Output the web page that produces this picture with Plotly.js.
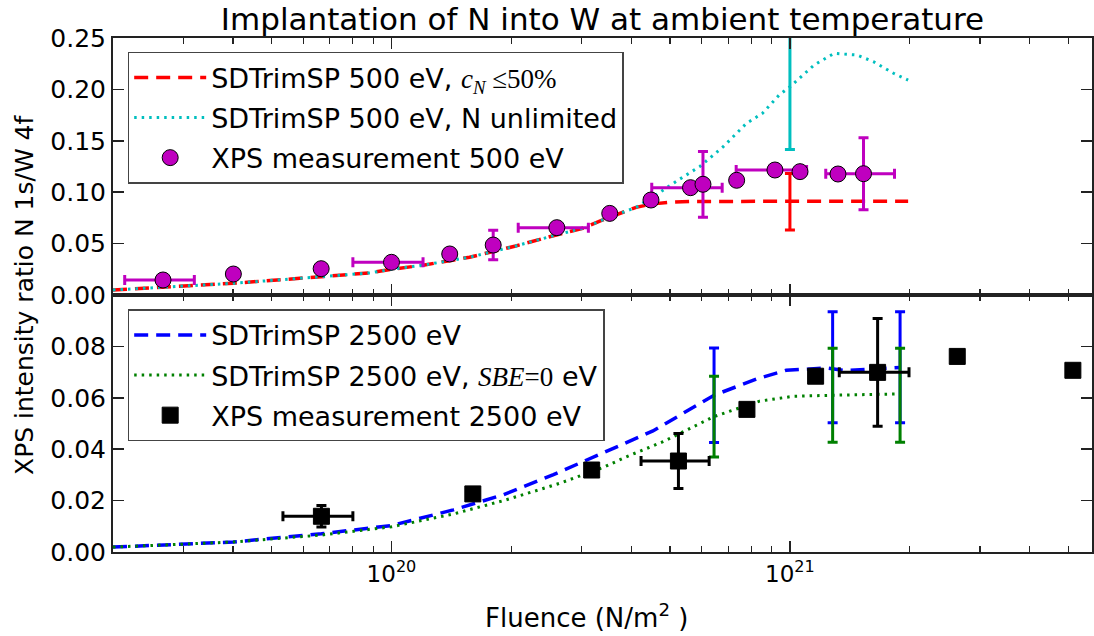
<!DOCTYPE html>
<html>
<head>
<meta charset="utf-8">
<script src="https://cdn.plot.ly/plotly-3.0.1.min.js"></script>
<style>
  html, body { margin: 0; padding: 0; background: #fff; }
  #chart { width: 1094px; height: 636px; }
</style>
</head>
<body>
<div id="chart"></div>
<script>
// ---------- Top panel: 500 eV ----------
const sim500Limited_x = [2e19, 2.67e19, 4.01e19, 6.66e19, 8.83e19, 1e20, 1.2e20, 1.57e20, 2.05e20, 2.59e20, 3.02e20, 3.39e20, 4.11e20, 4.5e20, 5e20, 5.6e20, 7e20, 1e21, 1.5e21, 1.98e21];
const sim500Limited_y = [0.0049, 0.0075, 0.0114, 0.0178, 0.0215, 0.025, 0.029, 0.0367, 0.0477, 0.0584, 0.0649, 0.073, 0.0853, 0.0885, 0.0903, 0.0910, 0.0912, 0.0910, 0.0912, 0.0912];

const sim500Unlim_x = [2e19, 2.67e19, 4.01e19, 6.66e19, 8.83e19, 1e20, 1.2e20, 1.57e20, 2.05e20, 2.59e20, 3.02e20, 3.39e20, 4.11e20, 4.47e20, 4.8e20, 5.28e20, 5.94e20, 6.79e20, 7.78e20, 8.53e20, 9.4e20, 1e21, 1.15e21, 1.29e21, 1.47e21, 1.62e21, 1.82e21, 1.98e21];
const sim500Unlim_y = [0.0049, 0.0075, 0.0114, 0.0178, 0.0215, 0.025, 0.029, 0.0367, 0.0477, 0.0584, 0.0649, 0.073, 0.0853, 0.094, 0.102, 0.1125, 0.125, 0.144, 0.167, 0.1767, 0.1946, 0.2026, 0.2237, 0.235, 0.2335, 0.227, 0.2157, 0.209];

const sim500Err_x = [1e21];
const sim500LimitedErr_y = [0.0908];
const sim500LimitedErr = [0.0275];
const sim500UnlimErr_y = [0.2026];
const sim500UnlimErr = [0.061];

const xps500_x = [2.67e19, 4.01e19, 6.66e19, 1.0e20, 1.40e20, 1.80e20, 2.60e20, 3.53e20, 4.48e20, 5.63e20, 6.05e20, 7.35e20, 9.17e20, 1.06e21, 1.32e21, 1.53e21];
const xps500_y = [0.0146, 0.0204, 0.0256, 0.0318, 0.0399, 0.0486, 0.0655, 0.0794, 0.0924, 0.1044, 0.1077, 0.1116, 0.1216, 0.1200, 0.1177, 0.1180];
const xps500_xerr = [0.53e19, 0, 0, 0.2e20, 0, 0, 0.52e20, 0, 0, 1.13e20, 0, 0, 1.84e20, 0, 0, 0.30e21];
const xps500_yerr = [0, 0, 0, 0, 0, 0.0143, 0, 0, 0, 0, 0.032, 0, 0, 0, 0, 0.035];

// ---------- Bottom panel: 2500 eV ----------
const sim2500_x = [2e19, 4.01e19, 6.67e19, 1e20, 1.43e20, 1.91e20, 2.55e20, 3.40e20, 4.53e20, 6.45e20, 8.24e20, 9.79e20, 1.24e21, 1.38e21, 1.58e21, 1.89e21];
const sim2500_y = [0.0019, 0.0039, 0.0071, 0.0103, 0.0164, 0.0223, 0.0301, 0.0387, 0.0471, 0.0610, 0.0673, 0.0707, 0.0716, 0.0706, 0.0712, 0.0718];

const sim2500SBE_x = [2e19, 4.01e19, 6.67e19, 1e20, 1.43e20, 1.91e20, 2.31e20, 2.64e20, 3.40e20, 3.88e20, 4.80e20, 6.45e20, 8.39e20, 1.02e21, 1.28e21, 1.6e21, 1.89e21];
const sim2500SBE_y = [0.0019, 0.0039, 0.0066, 0.0098, 0.0148, 0.0200, 0.0239, 0.0267, 0.0329, 0.0370, 0.0429, 0.0527, 0.0587, 0.0606, 0.0610, 0.0612, 0.0615];

const sim2500Err_x = [6.45e20, 1.28e21, 1.89e21];
const sim2500Err_y = [0.0610, 0.0719, 0.0719];
const sim2500Err = [0.0184, 0.0216, 0.0216];
const sim2500SBEErr_y = [0.0527, 0.0610, 0.0610];
const sim2500SBEErr = [0.0157, 0.0183, 0.0183];

const xps2500_x = [6.67e19, 1.60e20, 3.18e20, 5.25e20, 7.8e20, 1.16e21, 1.66e21, 2.63e21, 5.13e21];
const xps2500_y = [0.0139, 0.0226, 0.0319, 0.0354, 0.0555, 0.0684, 0.0699, 0.0761, 0.0707];
const xps2500_xerr = [1.33e19, 0, 0, 1.02e20, 0, 0, 0.33e21, 0, 0];
const xps2500_yerr = [0.0042, 0, 0, 0.0107, 0, 0, 0.021, 0, 0];

// ---------- Labels ----------
const titleText = 'Implantation of N into W at ambient temperature';
const yTitle = 'XPS intensity ratio N 1s/W 4f';
const xTitle = 'Fluence (N/m<sup>2</sup> )';
const SERIF = '<span style="font-family:\'Liberation Serif\'">';
const name500Lim = 'SDTrimSP 500 eV, ' + SERIF + '<i>c<sub>N</sub></i> ≤50%</span>';
const name500Unlim = 'SDTrimSP 500 eV, N unlimited';
const nameXps500 = 'XPS measurement 500 eV';
const name2500 = 'SDTrimSP 2500 eV';
const name2500SBE = 'SDTrimSP 2500 eV, ' + SERIF + '<i>SBE</i>=0</span> eV';
const nameXps2500 = 'XPS measurement 2500 eV';
const xMajorVals = [1e20, 1e21];
const xMajorText = ['10<sup>20</sup>', '10<sup>21</sup>'];
const y500Ticks = [0, 0.05, 0.10, 0.15, 0.20, 0.25];
const y2500Ticks = [0, 0.02, 0.04, 0.06, 0.08];

const RED = '#ff0000', CYAN = '#00bfbf', MAG = '#bf00bf', BLUE = '#0000ff', GREEN = '#008000';

const minorVals = [];
for (let e = 19; e <= 21; e++) for (let m = 2; m <= 9; m++) minorVals.push(m * Math.pow(10, e));

function errTrace(x, y, err, color, xa, ya, leg, grp) {
  return {
    x: x, y: y, mode: 'lines', xaxis: xa, yaxis: ya, showlegend: false, hoverinfo: 'skip',
    line: {color: color, width: 0},
    error_y: {type: 'data', array: err, visible: true, color: color, thickness: 3, width: 5},
    legend: leg, legendgroup: grp
  };
}

const traces = [
  // top panel
  {x: sim500Limited_x, y: sim500Limited_y, mode: 'lines', name: name500Lim, xaxis: 'x2', yaxis: 'y2',
   line: {color: RED, width: 3.5, dash: '14px,8px'}, legend: 'legend', legendgroup: 'a'},
  {x: sim500Unlim_x, y: sim500Unlim_y, mode: 'lines', name: name500Unlim, xaxis: 'x2', yaxis: 'y2',
   line: {color: CYAN, width: 3, dash: '2.5px,5px'}, legend: 'legend', legendgroup: 'b'},
  errTrace(sim500Err_x, sim500LimitedErr_y, sim500LimitedErr, RED, 'x2', 'y2', 'legend', 'a'),
  errTrace(sim500Err_x, sim500UnlimErr_y, sim500UnlimErr, CYAN, 'x2', 'y2', 'legend', 'b'),
  {x: xps500_x, y: xps500_y, mode: 'markers', name: nameXps500, xaxis: 'x2', yaxis: 'y2',
   marker: {symbol: 'circle', size: 16, color: MAG, line: {color: '#000', width: 1}},
   error_x: {type: 'data', array: xps500_xerr, visible: true, color: MAG, thickness: 3, width: 5},
   error_y: {type: 'data', array: xps500_yerr, visible: true, color: MAG, thickness: 3, width: 5},
   legend: 'legend', legendgroup: 'c'},
  // bottom panel
  {x: sim2500_x, y: sim2500_y, mode: 'lines', name: name2500, xaxis: 'x', yaxis: 'y',
   line: {color: BLUE, width: 3.5, dash: '14px,8px'}, legend: 'legend2', legendgroup: 'd'},
  {x: sim2500SBE_x, y: sim2500SBE_y, mode: 'lines', name: name2500SBE, xaxis: 'x', yaxis: 'y',
   line: {color: GREEN, width: 3, dash: '2.5px,5px'}, legend: 'legend2', legendgroup: 'e'},
  errTrace(sim2500Err_x, sim2500Err_y, sim2500Err, BLUE, 'x', 'y', 'legend2', 'd'),
  errTrace(sim2500Err_x, sim2500SBEErr_y, sim2500SBEErr, GREEN, 'x', 'y', 'legend2', 'e'),
  {x: xps2500_x, y: xps2500_y, mode: 'markers', name: nameXps2500, xaxis: 'x', yaxis: 'y',
   marker: {symbol: 'square', size: 16, color: '#000', line: {color: '#000', width: 1}},
   error_x: {type: 'data', array: xps2500_xerr, visible: true, color: '#000', thickness: 3, width: 5},
   error_y: {type: 'data', array: xps2500_yerr, visible: true, color: '#000', thickness: 3, width: 5},
   legend: 'legend2', legendgroup: 'f'}
];

const FONT = 'DejaVu Sans, Bitstream Vera Sans, sans-serif';
const xRange = [Math.log10(2e19), Math.log10(5.73e21)];

const xBase = {
  type: 'log', range: xRange, showgrid: false, zeroline: false,
  showline: true, linecolor: '#222', linewidth: 2, mirror: 'allticks',
  ticks: 'inside', ticklen: 11, tickwidth: 1.5, tickcolor: '#222',
  tickmode: 'array', tickvals: xMajorVals, ticktext: xMajorText,
  minor: {ticks: 'inside', ticklen: 6, tickwidth: 1.2, tickcolor: '#222', tickmode: 'array', tickvals: minorVals},
  tickfont: {family: FONT, size: 23, color: '#000'}
};
const yBase = {
  showgrid: false, zeroline: false, showline: true, linecolor: '#222', linewidth: 2, mirror: 'allticks',
  ticks: 'inside', ticklen: 11, tickwidth: 1.5, tickcolor: '#222', tickformat: '.2f',
  tickmode: 'array', tickfont: {family: FONT, size: 25, color: '#000'}
};

const legendBase = {
  xanchor: 'left', yanchor: 'top', xref: 'paper', yref: 'paper',
  bgcolor: 'rgba(255,255,255,0.7)', bordercolor: '#444', borderwidth: 1.5,
  font: {family: FONT, size: 27, color: '#000'}, itemwidth: 72, tracegroupgap: 2, traceorder: 'grouped'
};

const layout = {
  width: 1094, height: 636,
  paper_bgcolor: '#fff', plot_bgcolor: '#fff',
  font: {family: FONT, color: '#000'},
  margin: {l: 113, r: 2, t: 38, b: 84},
  title: {text: titleText, font: {family: FONT, size: 31, color: '#000'},
          x: 0.5, xref: 'paper', xanchor: 'center', y: 1 - 19 / 636, yref: 'container', yanchor: 'middle'},
  xaxis: Object.assign({}, xBase, {anchor: 'y', domain: [0, 1]}),
  xaxis2: Object.assign({}, xBase, {anchor: 'y2', matches: 'x', showticklabels: false}),
  yaxis: Object.assign({}, yBase, {domain: [0, 0.5], range: [0, 0.1], tickvals: y2500Ticks, anchor: 'x'}),
  yaxis2: Object.assign({}, yBase, {domain: [0.5, 1], range: [0, 0.25], tickvals: y500Ticks, anchor: 'x2'}),
  showlegend: true,
  legend: Object.assign({}, legendBase, {x: 0.015, y: 0.973}),
  legend2: Object.assign({}, legendBase, {x: 0.015, y: 0.472}),
  annotations: [
    {text: yTitle, textangle: -90, xref: 'paper', yref: 'paper', x: (24 - 113) / 979, y: 0.5,
     xanchor: 'center', yanchor: 'middle', showarrow: false, font: {family: FONT, size: 25, color: '#000'}},
    {text: xTitle, xref: 'paper', yref: 'paper', x: (586 - 113) / 979, y: (552 - 616) / 514,
     xanchor: 'center', yanchor: 'middle', showarrow: false, font: {family: FONT, size: 26, color: '#000'}}
  ]
};

Plotly.newPlot('chart', traces, layout, {displayModeBar: false, staticPlot: true});
</script>
</body>
</html>
